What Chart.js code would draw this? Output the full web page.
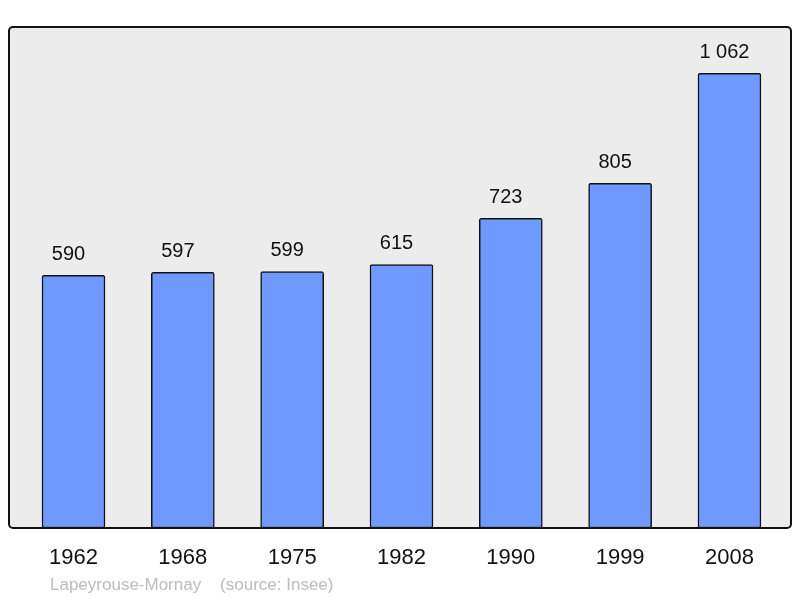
<!DOCTYPE html>
<html>
<head>
<meta charset="utf-8">
<script src="https://cdn.jsdelivr.net/npm/chart.js@4"></script>
<style>
  html, body { margin: 0; padding: 0; background: #fff; }
  #box { width: 800px; height: 598px; }
</style>
</head>
<body>
<div id="box"><canvas id="popChart"></canvas></div>
<script>
const years = ['1962', '1968', '1975', '1982', '1990', '1999', '2008'];
const population = [590, 597, 599, 615, 723, 805, 1062];
const footerText = 'Lapeyrouse-Mornay    (source: Insee)';

const ctx = document.getElementById('popChart').getContext('2d');

function formatNum(n) {
    return String(n).replace(/\B(?=(\d{3})+(?!\d))/g, ' ');
}

// fond gris + cadre noir de la zone du graphe
const frame = {
    id: 'frame',
    beforeDatasetsDraw(chart) {
        const a = chart.chartArea;
        const c = chart.ctx;
        c.save();
        c.beginPath();
        c.roundRect(a.left, a.top, a.right - a.left, a.bottom - a.top, 4);
        c.fillStyle = '#ececec';
        c.fill();
        c.restore();
    },
    afterDatasetsDraw(chart) {
        const a = chart.chartArea;
        const c = chart.ctx;
        c.save();
        c.beginPath();
        c.roundRect(a.left, a.top, a.right - a.left, a.bottom - a.top, 4);
        c.lineWidth = 2;
        c.strokeStyle = '#111';
        c.stroke();

        // valeurs au-dessus des barres
        c.fillStyle = '#111';
        c.font = '20px "Liberation Sans", Arial, sans-serif';
        c.textAlign = 'center';
        c.textBaseline = 'middle';
        chart.getDatasetMeta(0).data.forEach((bar, i) => {
            c.fillText(formatNum(population[i]), bar.x - 5, bar.y - 21);
        });

        // source
        c.fillStyle = '#bcbcbc';
        c.font = '17px "Liberation Sans", Arial, sans-serif';
        c.textAlign = 'left';
        c.fillText(footerText, 50, 585);
        c.restore();
    }
};

new Chart(ctx, {
    type: 'bar',
    data: {
        datasets: [{
            data: population.map((v, i) => ({ x: i, y: v })),
            backgroundColor: '#7099ff',
            borderColor: '#111',
            borderWidth: 1.5,
            borderSkipped: false,
            borderRadius: 2,
            barThickness: 63
        }]
    },
    options: {
        responsive: true,
        maintainAspectRatio: false,
        animation: false,
        layout: {
            padding: { left: 9, right: 9, top: 27, bottom: 0 }
        },
        plugins: {
            legend: { display: false },
            tooltip: { enabled: false }
        },
        scales: {
            x: {
                type: 'linear',
                offset: false,
                min: -0.59,
                max: 6.563,
                grid: { display: false, drawTicks: false },
                border: { display: false },
                afterBuildTicks(scale) {
                    scale.ticks = years.map((y, i) => ({ value: i }));
                },
                afterFit(scale) {
                    scale.height = 70;
                },
                ticks: {
                    padding: 17,
                    color: '#111',
                    font: { size: 22, family: '"Liberation Sans", Arial, sans-serif' },
                    callback: (v) => years[v]
                }
            },
            y: {
                display: false,
                min: 0,
                max: 1170
            }
        }
    },
    plugins: [frame]
});
</script>
</body>
</html>
